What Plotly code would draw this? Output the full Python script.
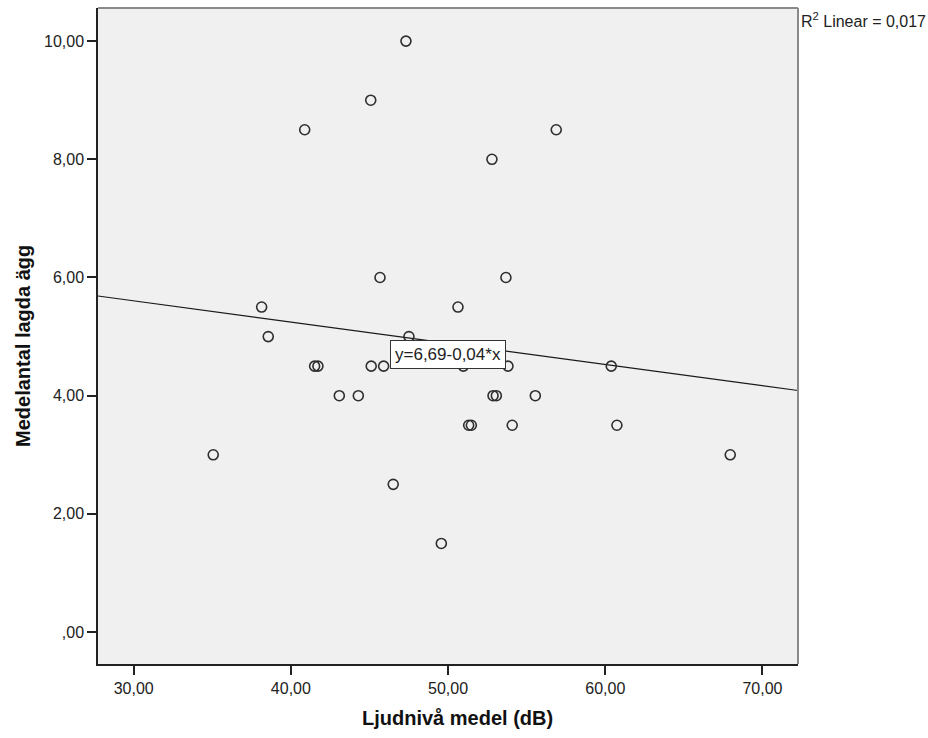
import numpy as np
import plotly.graph_objects as go

# Data (Ljudnivå medel (dB) vs Medelantal lagda ägg)
noise_db = [47.32, 45.08, 40.88, 56.88, 52.79, 45.67, 53.68, 38.14, 50.63,
            38.56, 47.51,
            41.51, 41.72, 45.11, 45.90, 50.97, 53.81, 60.38,
            43.08, 44.29, 52.86, 53.07, 55.55,
            51.31, 51.48, 54.08, 60.74,
            35.06, 67.95, 46.51, 49.57]
eggs = [10.0, 9.0, 8.5, 8.5, 8.0, 6.0, 6.0, 5.5, 5.5,
        5.0, 5.0,
        4.5, 4.5, 4.5, 4.5, 4.5, 4.5, 4.5,
        4.0, 4.0, 4.0, 4.0, 4.0,
        3.5, 3.5, 3.5, 3.5,
        3.0, 3.0, 2.5, 1.5]

x_tickvals = [30, 40, 50, 60, 70]
x_ticktext = ["30,00", "40,00", "50,00", "60,00", "70,00"]
y_tickvals = [0, 2, 4, 6, 8, 10]
y_ticktext = [",00", "2,00", "4,00", "6,00", "8,00", "10,00"]

x_range = [27.73, 72.26]
y_range = [-0.54, 10.56]

x_title = "<b>Ljudnivå medel (dB)</b>"
y_title = "<b>Medelantal lagda ägg</b>"
fit_label = "y=6,69-0,04*x"
r2_label = "R<sup>2</sup> Linear = 0,017"

slope, intercept = np.polyfit(noise_db, eggs, 1)
line_x = np.array(x_range)
line_y = intercept + slope * line_x

FONT = "Liberation Sans, Arial, sans-serif"

fig = go.Figure()
fig.add_trace(go.Scatter(
    x=line_x, y=line_y, mode="lines",
    line=dict(color="#1a1a1a", width=1.2), hoverinfo="skip", showlegend=False))
fig.add_trace(go.Scatter(
    x=noise_db, y=eggs, mode="markers",
    marker=dict(symbol="circle-open", size=10, color="#2e2e2e",
                line=dict(width=1.6, color="#2e2e2e")),
    showlegend=False))

fig.update_layout(
    width=928, height=738,
    margin=dict(l=98, r=130, t=8, b=74),
    paper_bgcolor="white", plot_bgcolor="#F0F0F0",
    font=dict(family=FONT, size=16, color="#222222"),
    xaxis=dict(range=x_range, tickvals=x_tickvals, ticktext=x_ticktext,
               showgrid=False, zeroline=False, showline=True, linecolor="#222222",
               linewidth=1.5, ticks="outside", ticklen=9, tickwidth=1.5,
               tickcolor="#222222", tickfont=dict(size=16, color="#222222")),
    yaxis=dict(range=y_range, tickvals=y_tickvals, ticktext=y_ticktext,
               showgrid=False, zeroline=False, showline=True, linecolor="#222222",
               linewidth=1.5, ticks="outside", ticklen=9, tickwidth=1.5,
               tickcolor="#222222", tickfont=dict(size=16, color="#222222")),
    shapes=[
        dict(type="line", xref="paper", yref="paper", x0=0, x1=1, y0=1, y1=1,
             line=dict(color="#8a8a8a", width=2)),
        dict(type="line", xref="paper", yref="paper", x0=1, x1=1, y0=0, y1=1,
             line=dict(color="#8a8a8a", width=2)),
    ],
    annotations=[
        dict(text=x_title, xref="paper", yref="paper",
             x=0.5129, y=-0.0823, xanchor="center", yanchor="middle",
             showarrow=False, font=dict(size=20, color="#111111", family=FONT)),
        dict(text=y_title, xref="paper", yref="paper",
             x=-0.108, y=0.4854, xanchor="center", yanchor="middle", textangle=-90,
             showarrow=False, font=dict(size=20, color="#111111", family=FONT)),
        dict(text=r2_label, xref="paper", yref="paper", x=1.0014, y=0.9817,
             xanchor="left", yanchor="middle", showarrow=False,
             font=dict(size=16, color="#222222", family=FONT)),
        dict(text=fit_label, xref="x", yref="y", x=50, y=4.70,
             xanchor="center", yanchor="middle", showarrow=False,
             bgcolor="white", bordercolor="#333333", borderwidth=1, borderpad=4,
             font=dict(size=17, color="#222222", family=FONT)),
    ],
)

fig.write_html("out.html")
